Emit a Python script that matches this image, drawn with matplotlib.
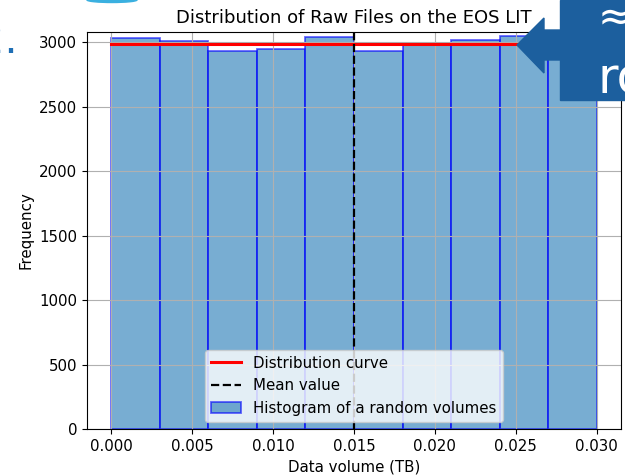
import matplotlib
matplotlib.use("Agg")
import matplotlib.pyplot as plt
from matplotlib.patches import Rectangle, Polygon, Ellipse
import numpy as np

# histogram: 10 bins between 0 and 0.03 TB
bin_edges = [0.000, 0.003, 0.006, 0.009, 0.012, 0.015, 0.018, 0.021, 0.024, 0.027, 0.030]
counts = [3036, 3012, 2932, 2950, 3044, 2932, 2987, 3016, 3051, 3040]
curve_x = [0.0, 0.03]
curve_y = [2990, 2990]
mean_value = 0.015

plt.rcParams['font.size'] = 10.8

W, H = 625, 476
fig = plt.figure(figsize=(W / 100, H / 100), dpi=100)
ax = fig.add_axes([87 / W, 1 - 429 / H, (621 - 87) / W, (429 - 31.7) / H])

ax.plot(curve_x, curve_y, c='red', lw=2.2, label='Distribution curve')
ax.axvline(mean_value, color='black', ls='--', lw=1.6, label='Mean value')
ax.hist(bin_edges[:-1], bins=bin_edges, weights=counts, alpha=0.6,
        color='#1f77b4', edgecolor='blue', lw=1.3,
        label='Histogram of a random volumes')

ax.set_xlim(-0.0015, 0.0315)
ax.set_ylim(0, 3082)
ax.set_xticks(np.arange(0, 0.0301, 0.005))
ax.set_xticklabels(['0.000', '0.005', '0.010', '0.015', '0.020', '0.025', '0.030'])
ax.grid(True)
ax.set_title('Distribution of Raw Files on the EOS LIT', fontsize=13)
ax.set_xlabel('Data volume (TB)')
ax.set_ylabel('Frequency')
ax.legend(loc='lower center')

# slide decorations lying over the chart
def px(x, y):
    return (x / W, 1 - y / H)

dark = '#1c5f9e'
fig.add_artist(Rectangle(px(560, 100), 65 / W, 100 / H, transform=fig.transFigure,
                         color=dark, zorder=10))
fig.add_artist(Polygon([px(517, 45), px(544, 18), px(544, 30), px(561, 30),
                        px(561, 60), px(544, 60), px(544, 73)],
                       closed=True, transform=fig.transFigure, color=dark, zorder=10))
fig.text(*px(598, 30), '≈', color='white', fontsize=30, ha='left', va='baseline', zorder=11)
fig.text(*px(598, 94), 'ro', color='white', fontsize=36, ha='left', va='baseline', zorder=11)
fig.text(*px(17.5, 53), '2.', color='#1f6fb5', fontsize=30, ha='right', va='baseline', zorder=11)
fig.add_artist(Ellipse(px(112, 0), 50 / W, 5 / H, transform=fig.transFigure,
                       color='#3ab0e0', zorder=10))

fig.savefig('out.png', dpi=100)
